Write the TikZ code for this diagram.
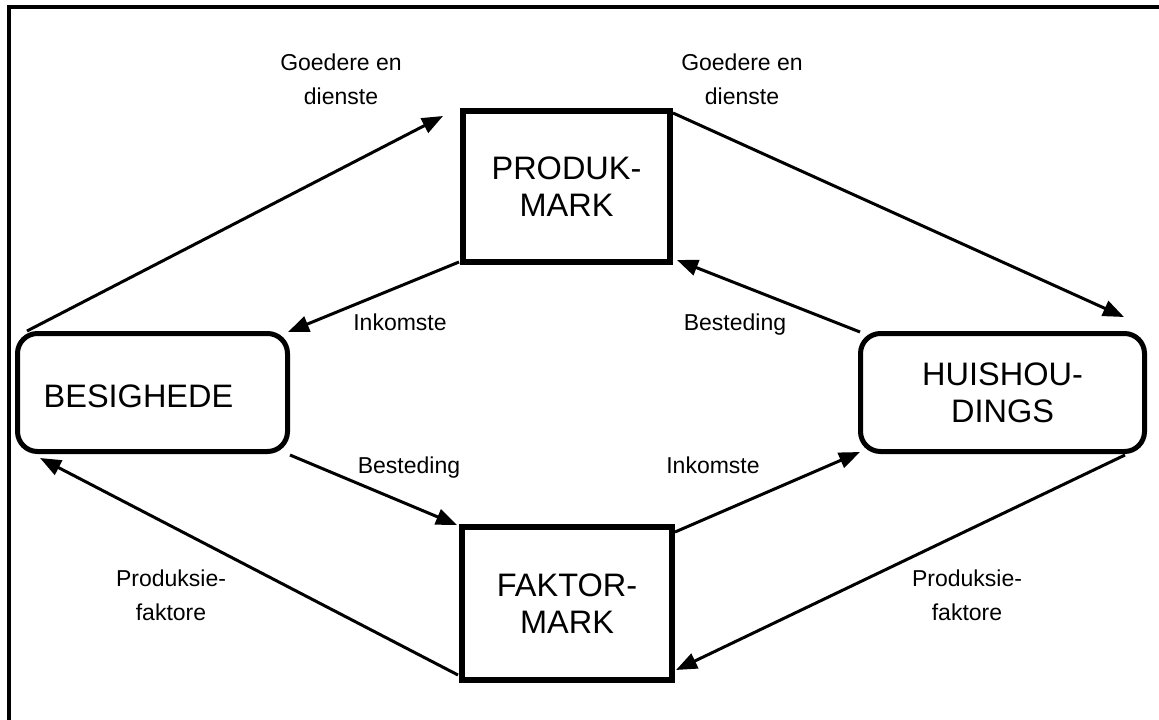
\documentclass[tikz,border=0pt]{standalone}
\usepackage{fontspec}
\setmainfont{Liberation Sans}
\usetikzlibrary{arrows.meta,calc}
\begin{document}
\begin{tikzpicture}[x=1pt,y=-1pt,
  box/.style={draw, line width=6pt, inner sep=0pt},
  rbox/.style={draw, line width=5pt, rounded corners=20pt, inner sep=0pt},
  big/.style={font=\fontsize{32.5}{37}\selectfont, align=center},
  lab/.style={font=\fontsize{23}{34}\selectfont, align=center},
  flow/.style={line width=3pt, -{Triangle[length=21pt,width=16pt]}}]
\useasboundingbox (0,0) rectangle (1159,720);
\draw[line width=4pt, line join=miter] (9,720) -- (9,7) -- (1159,7);

\node[box, big, minimum width=207pt, minimum height=151pt] (pm) at (566.5,186.5) {PRODUK-\\MARK};
\node[box, big, minimum width=210pt, minimum height=153pt] (fm) at (567,603.5) {FAKTOR-\\MARK};
\node[rbox, minimum width=270pt, minimum height=118pt] (bs) at (152.5,392.5) {};
\node[big, anchor=base] (bst) at (138.5,407) {BESIGHEDE};
\node[rbox, big, minimum width=284pt, minimum height=118pt] (hh) at (1002.5,392.5) {HUISHOU-\\DINGS};

\draw[flow] ($(bs.north west)+(12,0)$) -- ($(pm.north west)+(-17,8)$);
\draw[flow] ($(pm.north east)+(0,5)$) -- ($(hh.north east)+(-23,-14)$);
\draw[flow] ($(pm.south west)+(-1,-3)$) -- ($(bs.north east)+(-2,1)$);
\draw[flow] ($(hh.north west)+(2,1)$) -- ($(pm.south east)+(4,-5)$);
\draw[flow] ($(bs.south east)+(0,1)$) -- ($(fm.north west)+(-2,1)$);
\draw[flow] ($(fm.north east)+(0,8)$) -- ($(hh.south west)+(2,-2)$);
\draw[flow] ($(hh.south east)+(-22,1)$) -- ($(fm.south east)+(1,-13)$);
\draw[flow] ($(fm.south west)+(-1,-8)$) -- ($(bs.south west)+(25,4)$);

\node[lab] (g1) at (341,79) {Goedere en\\dienste};
\node[lab] (g2) at (742,79) {Goedere en\\dienste};
\node[lab, anchor=base] (i1) at (400,330) {Inkomste};
\node[lab, anchor=base] (b1) at (735,330) {Besteding};
\node[lab, anchor=base] (b2) at (409,473) {Besteding};
\node[lab, anchor=base] (i2) at (713,473) {Inkomste};
\node[lab] (p1) at (171,595) {Produksie-\\faktore};
\node[lab] (p2) at (967,595) {Produksie-\\faktore};
\end{tikzpicture}
\end{document}
